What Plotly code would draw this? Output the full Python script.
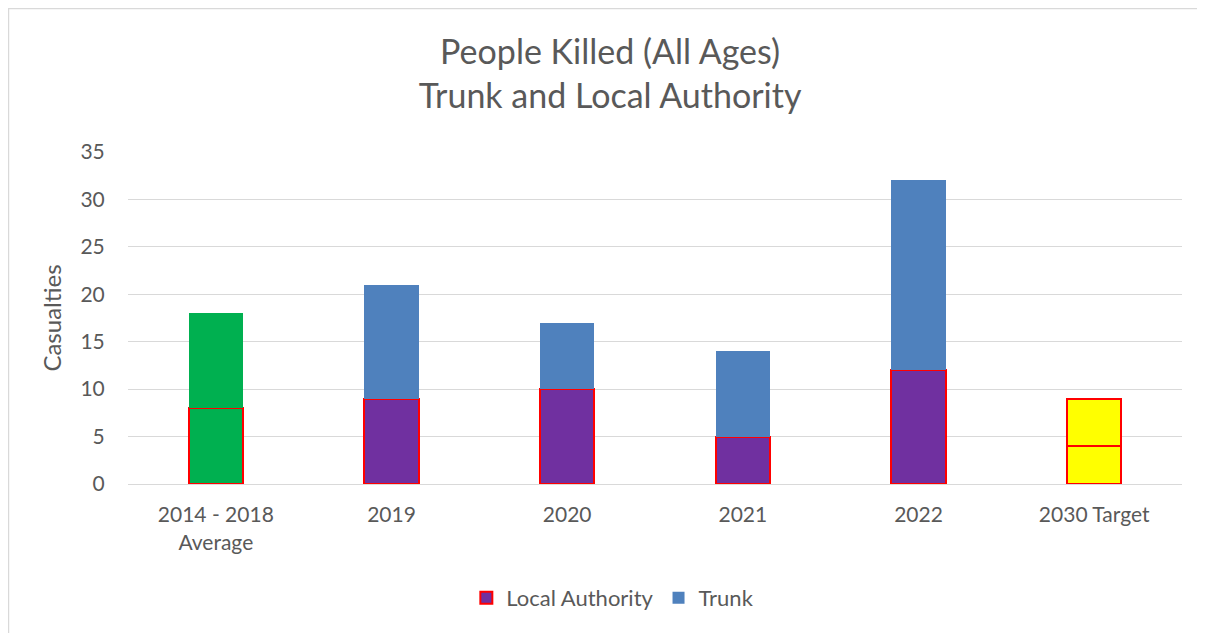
import plotly.graph_objects as go

categories = ["2014 - 2018<br>Average", "2019", "2020", "2021", "2022", "2030 Target"]
local_authority = [8, 9, 10, 5, 12, 4]
trunk = [10, 12, 7, 9, 20, 5]

la_colors = ["#00B050", "#7030A0", "#7030A0", "#7030A0", "#7030A0", "#FFFF00"]
trunk_colors = ["#00B050", "#4F81BD", "#4F81BD", "#4F81BD", "#4F81BD", "#FFFF00"]
trunk_line_colors = ["#00B050", "#4F81BD", "#4F81BD", "#4F81BD", "#4F81BD", "#FF0000"]
trunk_line_widths = [0, 0, 0, 0, 0, 2]

FONT = "Lato, Carlito, Calibri, sans-serif"
GREY = "#595959"

fig = go.Figure()
fig.add_trace(go.Bar(
    x=categories, y=local_authority, name="Local Authority",
    marker=dict(color=la_colors, line=dict(color="#FF0000", width=2)),
    width=0.31, showlegend=False,
))
fig.add_trace(go.Bar(
    x=categories, y=trunk, name="Trunk",
    marker=dict(color=trunk_colors, line=dict(color=trunk_line_colors, width=trunk_line_widths)),
    width=0.31, showlegend=False,
))
# legend entries
fig.add_trace(go.Bar(
    x=[categories[0]], y=[None], name="Local Authority",
    marker=dict(color="#7030A0", line=dict(color="#FF0000", width=2)),
))
fig.add_trace(go.Bar(
    x=[categories[0]], y=[None], name="Trunk",
    marker=dict(color="#4F81BD", line=dict(width=0)),
))

fig.update_layout(
    barmode="stack",
    width=1197, height=625,
    paper_bgcolor="white", plot_bgcolor="white",
    margin=dict(l=120, r=23, t=144, b=149),
    font=dict(family=FONT, color=GREY, size=21),
    title=dict(
        text="People Killed (All Ages)<br>Trunk and Local Authority",
        x=0.503, xanchor="center", y=0.91, yanchor="middle",
        font=dict(family=FONT, size=34, color=GREY),
    ),
    legend=dict(
        orientation="h", x=0.46, xanchor="center", y=-0.343, yanchor="middle",
        font=dict(family=FONT, size=22, color=GREY),
        traceorder="normal", itemwidth=30,
    ),
    xaxis=dict(
        showgrid=False, showline=True, linecolor="#D9D9D9", linewidth=1,
        tickfont=dict(family=FONT, size=21, color=GREY),
        ticks="outside", ticklen=12, tickcolor="rgba(0,0,0,0)",
    ),
    yaxis=dict(
        range=[0, 35], dtick=5, showgrid=True, gridcolor="#D9D9D9", gridwidth=1,
        zeroline=False, showline=False,
        tickfont=dict(family=FONT, size=21, color=GREY),
        ticks="outside", ticklen=18, tickcolor="rgba(0,0,0,0)",
        title=dict(text="Casualties", font=dict(family=FONT, size=24, color=GREY), standoff=12),
    ),
    shapes=[dict(
        type="rect", xref="paper", yref="paper",
        x0=-0.1134, x1=1.0171, y0=-0.5, y1=1.432,
        line=dict(color="#D9D9D9", width=1.5), fillcolor="rgba(0,0,0,0)", layer="below",
    )],
)

fig.write_html("out.html")
